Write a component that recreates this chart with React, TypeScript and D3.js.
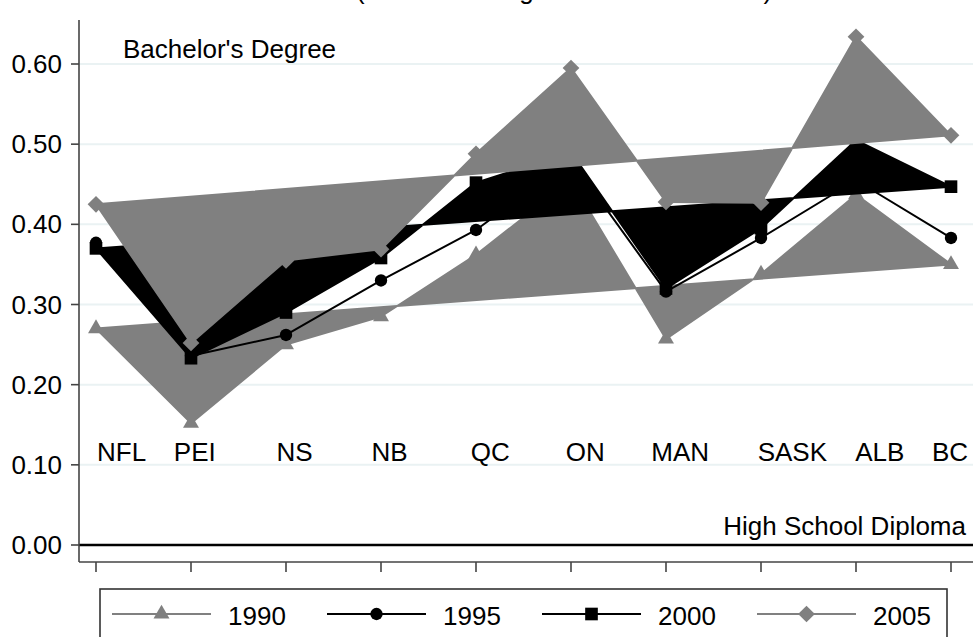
import React from "react";
import * as d3 from "d3";

const categories = ["NFL", "PEI", "NS", "NB", "QC", "ON", "MAN", "SASK", "ALB", "BC"];
const years = ["1990", "1995", "2000", "2005"];
const v1990 = [0.27, 0.152, 0.25, 0.285, 0.362, 0.455, 0.257, 0.338, 0.437, 0.35];
const v1995 = [0.377, 0.236, 0.262, 0.33, 0.393, 0.48, 0.316, 0.383, 0.455, 0.383];
const v2000 = [0.37, 0.233, 0.29, 0.358, 0.452, 0.49, 0.32, 0.395, 0.505, 0.447];
const v2005 = [0.425, 0.252, 0.355, 0.369, 0.488, 0.595, 0.428, 0.427, 0.634, 0.511];
const yTicks = [0, 0.1, 0.2, 0.3, 0.4, 0.5, 0.6];
// category label annotation positions (in category units / data units)
const labelX = [1.27, 2.04, 3.09, 4.09, 5.15, 6.15, 7.15, 8.33, 9.25, 9.99];
const labelY = 0.105;
const topNote = "Bachelor's Degree";
const bottomNote = "High School Diploma";
const subtitle = "(Relative to High School Graduates)";

const W = 973;
const H = 637;
const FONT = "'Liberation Sans', Arial, Helvetica, sans-serif";
const GRAY = "#808080";

export default function App() {
  const x = d3.scaleLinear().domain([1, 10]).range([96, 951]);
  const y = d3.scaleLinear().domain([0, 0.6]).range([545, 64]);
  const plotLeft = 79;
  const plotTop = 20;
  const plotBottom = 562;

  const series = [
    { name: years[0], vals: v1990, color: GRAY, fill: true, symbol: d3.symbolTriangle, size: 110, rot: 0 },
    { name: years[1], vals: v1995, color: "#000", fill: false, symbol: d3.symbolCircle, size: 120, rot: 0 },
    { name: years[2], vals: v2000, color: "#000", fill: true, symbol: d3.symbolSquare, size: 160, rot: 0 },
    { name: years[3], vals: v2005, color: GRAY, fill: true, symbol: d3.symbolSquare, size: 140, rot: 45 },
  ];

  const line = d3
    .line<number>()
    .x((_, i) => x(i + 1))
    .y((d) => y(d));

  const legendStart = [112, 327, 542, 757];

  return (
    <svg
      width={W}
      height={H}
      style={{ position: "absolute", left: 0, top: 0, background: "#fff" }}
      fontFamily={FONT}
    >
      <rect x={0} y={0} width={W} height={H} fill="#fff" />
      <text x={564} y={-1} fontSize={26} textAnchor="middle" fill="#000">
        {subtitle}
      </text>
      {/* gridlines */}
      {yTicks.map((t) => (
        <line key={"g" + t} x1={plotLeft} x2={W} y1={y(t)} y2={y(t)} stroke="#eaf2f3" strokeWidth={2} />
      ))}
      {/* series */}
      {series.map((s) => {
        const d = line(s.vals) + (s.fill ? "Z" : "");
        const sym = d3.symbol().type(s.symbol).size(s.size)();
        return (
          <g key={s.name}>
            <path
              d={d}
              fill={s.fill ? s.color : "none"}
              stroke={s.color}
              strokeWidth={2}
              strokeLinejoin="round"
            />
            {s.vals.map((v, i) => (
              <path
                key={i}
                d={sym || ""}
                transform={`translate(${x(i + 1)},${y(v)}) rotate(${s.rot})`}
                fill={s.color}
              />
            ))}
          </g>
        );
      })}
      {/* zero line */}
      <line x1={plotLeft} x2={W} y1={y(0)} y2={y(0)} stroke="#000" strokeWidth={2.5} />
      {/* category labels */}
      {categories.map((c, i) => (
        <text key={c} x={x(labelX[i])} y={y(labelY)} fontSize={26} textAnchor="middle" fill="#000">
          {c}
        </text>
      ))}
      <text x={123} y={58} fontSize={26} fill="#000">
        {topNote}
      </text>
      <text x={966} y={535} fontSize={26} textAnchor="end" fill="#000">
        {bottomNote}
      </text>
      {/* y axis */}
      <line x1={plotLeft} x2={plotLeft} y1={plotTop} y2={plotBottom} stroke="#444" strokeWidth={1.6} />
      {yTicks.map((t) => (
        <g key={"t" + t}>
          <line x1={plotLeft - 8} x2={plotLeft} y1={y(t)} y2={y(t)} stroke="#444" strokeWidth={1.6} />
          <text x={62} y={y(t) + 9} fontSize={26} textAnchor="end" fill="#000">
            {d3.format(".2f")(t)}
          </text>
        </g>
      ))}
      {/* x axis */}
      <line x1={plotLeft} x2={W} y1={plotBottom} y2={plotBottom} stroke="#444" strokeWidth={1.6} />
      {categories.map((c, i) => (
        <line key={"xt" + c} x1={x(i + 1)} x2={x(i + 1)} y1={plotBottom} y2={plotBottom + 10} stroke="#444" strokeWidth={1.6} />
      ))}
      {/* legend */}
      <rect x={100} y={589} width={847} height={80} fill="#fff" stroke="#333" strokeWidth={1.6} />
      {series.map((s, k) => {
        const x0 = legendStart[k];
        const sym = d3.symbol().type(s.symbol).size(s.size)();
        return (
          <g key={"lg" + s.name}>
            <line x1={x0} x2={x0 + 99} y1={614} y2={614} stroke={s.color} strokeWidth={2} />
            <path d={sym || ""} transform={`translate(${x0 + 49.5},614) rotate(${s.rot})`} fill={s.color} />
            <text x={x0 + 116} y={625} fontSize={26} fill="#000">
              {s.name}
            </text>
          </g>
        );
      })}
    </svg>
  );
}
